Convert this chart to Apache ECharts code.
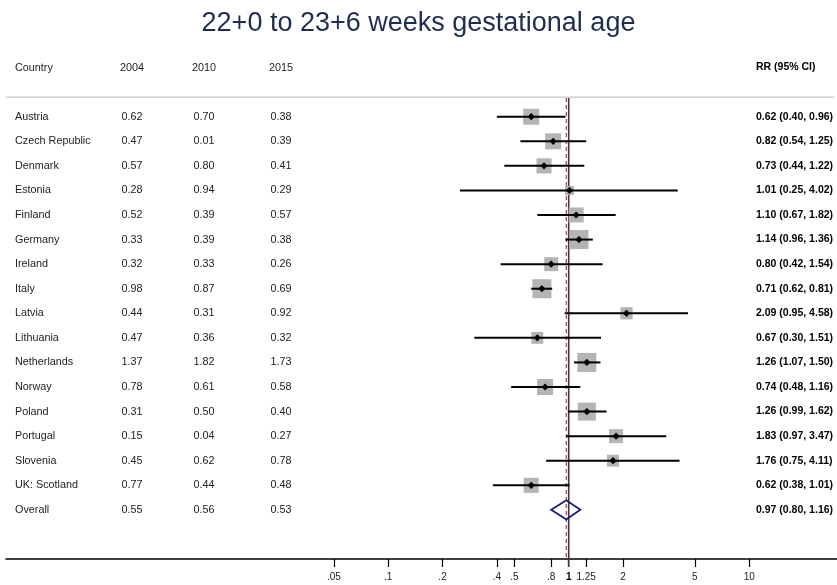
<!DOCTYPE html>
<html><head><meta charset="utf-8">
<script src="https://cdn.jsdelivr.net/npm/echarts@6/dist/echarts.min.js"></script>
<style>html,body{margin:0;padding:0;background:#fff}#c{width:837px;height:585px}</style>
</head><body><div id="c"></div><script>
const countries = ['Austria','Czech Republic','Denmark','Estonia','Finland','Germany','Ireland','Italy','Latvia','Lithuania','Netherlands','Norway','Poland','Portugal','Slovenia','UK: Scotland','Overall'];
const y2004 = [0.62,0.47,0.57,0.28,0.52,0.33,0.32,0.98,0.44,0.47,1.37,0.78,0.31,0.15,0.45,0.77,0.55];
const y2010 = [0.70,0.01,0.80,0.94,0.39,0.39,0.33,0.87,0.31,0.36,1.82,0.61,0.50,0.04,0.62,0.44,0.56];
const y2015 = [0.38,0.39,0.41,0.29,0.57,0.38,0.26,0.69,0.92,0.32,1.73,0.58,0.40,0.27,0.78,0.48,0.53];
const rr = [0.62,0.82,0.73,1.01,1.10,1.14,0.80,0.71,2.09,0.67,1.26,0.74,1.26,1.83,1.76,0.62,0.97];
const lo = [0.40,0.54,0.44,0.25,0.67,0.96,0.42,0.62,0.95,0.30,1.07,0.48,0.99,0.97,0.75,0.38,0.80];
const hi = [0.96,1.25,1.22,4.02,1.82,1.36,1.54,0.81,4.58,1.51,1.50,1.16,1.62,3.47,4.11,1.01,1.16];
const weights = [6.8,6.8,6.0,2.15,6.0,9.6,5.2,9.6,4.0,3.8,9.6,6.8,8.6,5.2,3.8,6.0];
const headers = ['Country','2004','2010','2015','RR (95% CI)'];
const tickValues = [0.05,0.1,0.2,0.4,0.5,0.8,1,1.25,2,5,10];
const tickLabels = ['.05','.1','.2','.4','.5','.8','1','1.25','2','5','10'];
const titleText = '22+0 to 23+6 weeks gestational age';

const FONT = 'Liberation Sans, Arial, sans-serif';
const nStudies = countries.length - 1;
const overallIdx = countries.length - 1;
const L = Math.log10;

function fmtRR(i){ return rr[i].toFixed(2)+' ('+lo[i].toFixed(2)+', '+hi[i].toFixed(2)+')'; }

function txt(text, x, y, align, opts){
  opts = opts || {};
  return {type:'text', silent:true, style:{text:text, x:x, y:y, align:align, textAlign:align, verticalAlign:'middle', textVerticalAlign:'middle',
    fill:opts.fill||'#222', font:(opts.weight||'normal')+' '+(opts.size||10.8)+'px '+FONT}};
}

const COLS = {country:15, c2004:132, c2010:204, c2015:281, rr:756};

const chart = echarts.init(document.getElementById('c'), null, {renderer:'canvas'});
const option = {
  animation:false,
  backgroundColor:'#fff',
  title:{text:titleText, left:'center', top:5, textStyle:{fontFamily:FONT, fontSize:27, fontWeight:'normal', color:'#1f2d50'}},
  grid:{left:6, right:0, top:43, bottom:26, containLabel:false},
  xAxis:{type:'value', min:-3.1175, max:1.4864,
    axisLine:{show:true, onZero:false, lineStyle:{color:'#000', width:1.5}},
    axisTick:{show:true, customValues:tickValues.map(L), length:8, lineStyle:{color:'#000', width:1.2}},
    axisLabel:{show:true, customValues:tickValues.map(L), margin:13, color:'#222', fontFamily:FONT, fontSize:10,
      formatter:function(v){ let best=0; for(let k=0;k<tickValues.length;k++){ if(Math.abs(L(tickValues[k])-v)<Math.abs(L(tickValues[best])-v)) best=k; } return tickLabels[best]==='1' ? '{b|1}' : tickLabels[best]; },
      rich:{b:{fontWeight:'bold', fontFamily:FONT, fontSize:10, color:'#000'}}},
    splitLine:{show:false}},
  yAxis:{type:'value', inverse:true, min:-3, max:18, show:false},
  series:[
    { // reference lines + separator
      type:'custom', clip:false, silent:true, z:1,
      data:[[L(rr[overallIdx]), 0]],
      renderItem:function(params, api){
        const top = api.coord([0, -0.8])[1];
        const bot = api.coord([0, 18])[1];
        const x1 = api.coord([0, 0])[0];
        const xr = api.coord([L(rr[overallIdx]), 0])[0];
        return {type:'group', children:[
          {type:'line', shape:{x1:params.coordSys.x, y1:top, x2:params.coordSys.x+params.coordSys.width-3, y2:top}, style:{stroke:'#c4c4c4', lineWidth:1.2}},
          {type:'line', shape:{x1:x1, y1:top+1, x2:x1, y2:bot+8}, style:{stroke:'#3a3a3a', lineWidth:1.6}},
          {type:'line', shape:{x1:xr, y1:top+1, x2:xr, y2:bot}, style:{stroke:'#b23a4a', lineWidth:1.2, lineDash:[4,3]}}
        ]};
      }
    },
    { // study squares, CI lines, point markers
      type:'custom', clip:false, silent:true, z:3,
      data:rr.slice(0, nStudies).map((v,i)=>[L(v), i]),
      renderItem:function(params, api){
        const i = params.dataIndex;
        const p = api.coord([L(rr[i]), i]);
        const pl = api.coord([L(lo[i]), i]);
        const ph = api.coord([L(hi[i]), i]);
        const s = 6.14*Math.sqrt(weights[i]);
        const d = 3.6;
        return {type:'group', children:[
          {type:'rect', shape:{x:p[0]-s/2, y:p[1]-s/2, width:s, height:s}, style:{fill:'#b4b4b4'}},
          {type:'line', shape:{x1:pl[0], y1:p[1], x2:ph[0], y2:p[1]}, style:{stroke:'#000', lineWidth:2}},
          {type:'polygon', shape:{points:[[p[0]-d,p[1]],[p[0],p[1]-d],[p[0]+d,p[1]],[p[0],p[1]+d]]}, style:{fill:'#000'}}
        ]};
      }
    },
    { // overall diamond
      type:'custom', clip:false, silent:true, z:4,
      data:[[L(rr[overallIdx]), overallIdx]],
      renderItem:function(params, api){
        const i = overallIdx;
        const pl = api.coord([L(lo[i]), i]);
        const ph = api.coord([L(hi[i]), i]);
        const pt = api.coord([L(rr[i]), i-0.39]);
        const pb = api.coord([L(rr[i]), i+0.39]);
        return {type:'polygon', shape:{points:[[pl[0],pl[1]],[pt[0],pt[1]],[ph[0],ph[1]],[pb[0],pb[1]]]}, style:{fill:'none', stroke:'#1a1a78', lineWidth:1.8}};
      }
    },
    { // table text
      type:'custom', clip:false, silent:true, z:5,
      data:countries.map((c,i)=>[0, i]).concat([[0,-2]]),
      renderItem:function(params, api){
        const i = params.dataIndex;
        const gx = params.coordSys.x - 6;
        if(i === countries.length){
          const y = api.coord([0, -2])[1];
          return {type:'group', children:[
            txt(headers[0], gx+COLS.country, y, 'left'),
            txt(headers[1], gx+COLS.c2004, y, 'center'),
            txt(headers[2], gx+COLS.c2010, y, 'center'),
            txt(headers[3], gx+COLS.c2015, y, 'center'),
            txt(headers[4], gx+COLS.rr, y, 'left', {weight:'bold', fill:'#000', size:10.5})
          ]};
        }
        const y = api.coord([0, i])[1];
        return {type:'group', children:[
          txt(countries[i], gx+COLS.country, y, 'left'),
          txt(y2004[i].toFixed(2), gx+COLS.c2004, y, 'center'),
          txt(y2010[i].toFixed(2), gx+COLS.c2010, y, 'center'),
          txt(y2015[i].toFixed(2), gx+COLS.c2015, y, 'center'),
          txt(fmtRR(i), gx+COLS.rr, y, 'left', {weight:'bold', fill:'#000', size:10.5})
        ]};
      }
    }
  ]
};
chart.setOption(option);
</script></body></html>
